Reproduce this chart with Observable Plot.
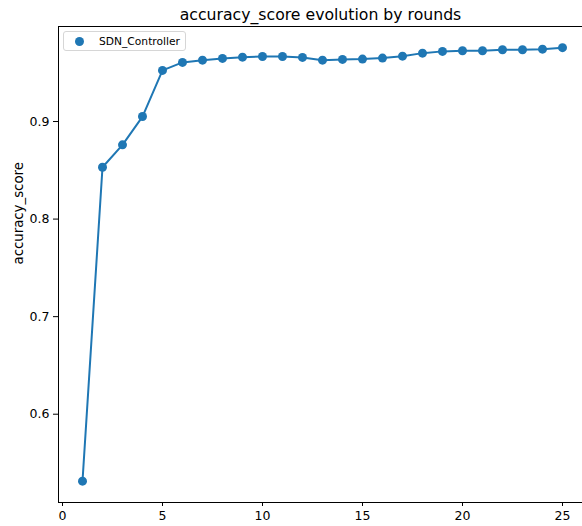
<!DOCTYPE html>
<html>
<head>
<meta charset="utf-8">
<script src="https://cdn.jsdelivr.net/npm/d3@7"></script>
<script src="https://cdn.jsdelivr.net/npm/@observablehq/plot@0.6"></script>
<style>
  html, body { margin: 0; padding: 0; background: #fff; overflow: hidden; }
  #wrap { position: relative; width: 582px; height: 526px; font-family: "DejaVu Sans", sans-serif; }
  #legend { position: absolute; left: 63px; top: 31px; width: 123px; height: 20px; border: 1px solid #d6d6d6; border-radius: 3px; background: rgba(255,255,255,0.8); box-sizing: border-box; }
  #legend .dot { position: absolute; left: 10.5px; top: 4.5px; width: 9px; height: 9px; border-radius: 50%; background: #1f77b4; }
  #legend .lab { position: absolute; left: 35px; top: 0; line-height: 19px; font-size: 10.7px; color: #000; white-space: nowrap; }
</style>
</head>
<body>
<div id="wrap"></div>
<script>
const title = "accuracy_score evolution by rounds";
const yLabel = "accuracy_score";
const seriesName = "SDN_Controller";
const rounds = [1,2,3,4,5,6,7,8,9,10,11,12,13,14,15,16,17,18,19,20,21,22,23,24,25];
const accuracy = [0.5314,0.8531,0.8761,0.9051,0.9524,0.9606,0.9629,0.9647,0.9660,0.9667,0.9667,0.9657,0.9629,0.9637,0.9640,0.9650,0.9670,0.9701,0.9719,0.9726,0.9726,0.9736,0.9736,0.9742,0.9757];
const xTicks = [0,5,10,15,20,25];
const yTicks = [0.6,0.7,0.8,0.9];

const data = rounds.map((r, i) => ({round: r, acc: accuracy[i]}));
const color = "#1f77b4";

const chart = Plot.plot({
  width: 582,
  height: 526,
  marginLeft: 58,
  marginRight: 0,
  marginTop: 26,
  marginBottom: 24,
  style: {fontFamily: "DejaVu Sans, sans-serif", fontSize: "12.5px", color: "#000", background: "#fff", overflow: "visible"},
  x: {domain: [-0.2, 26.0], ticks: xTicks, tickSize: 4, tickPadding: 5, label: null},
  y: {domain: [0.5095, 0.9974], ticks: yTicks, tickFormat: ".1f", tickSize: 5, tickPadding: 4, label: null},
  marks: [
    Plot.frame({anchor: "top", stroke: "#000", strokeOpacity: 1, strokeWidth: 1}),
    Plot.frame({anchor: "bottom", stroke: "#000", strokeOpacity: 1, strokeWidth: 1}),
    Plot.frame({anchor: "left", stroke: "#000", strokeOpacity: 1, strokeWidth: 1}),
    Plot.line(data, {x: "round", y: "acc", stroke: color, strokeWidth: 2}),
    Plot.dot(data, {x: "round", y: "acc", r: 4.5, fill: color, stroke: "none"}),
    Plot.text([title], {frameAnchor: "top", dx: 0, dy: -18, text: d => d, fontSize: 15.7, fill: "#000"}),
    Plot.text([yLabel], {frameAnchor: "left", dx: -40, rotate: -90, text: d => d, fontSize: 13.3, fill: "#000"})
  ]
});
const wrap = document.getElementById("wrap");
wrap.appendChild(chart);
const lg = document.createElement("div");
lg.id = "legend";
lg.innerHTML = '<span class="dot"></span><span class="lab"></span>';
lg.querySelector(".lab").textContent = seriesName;
wrap.appendChild(lg);
</script>
</body>
</html>
